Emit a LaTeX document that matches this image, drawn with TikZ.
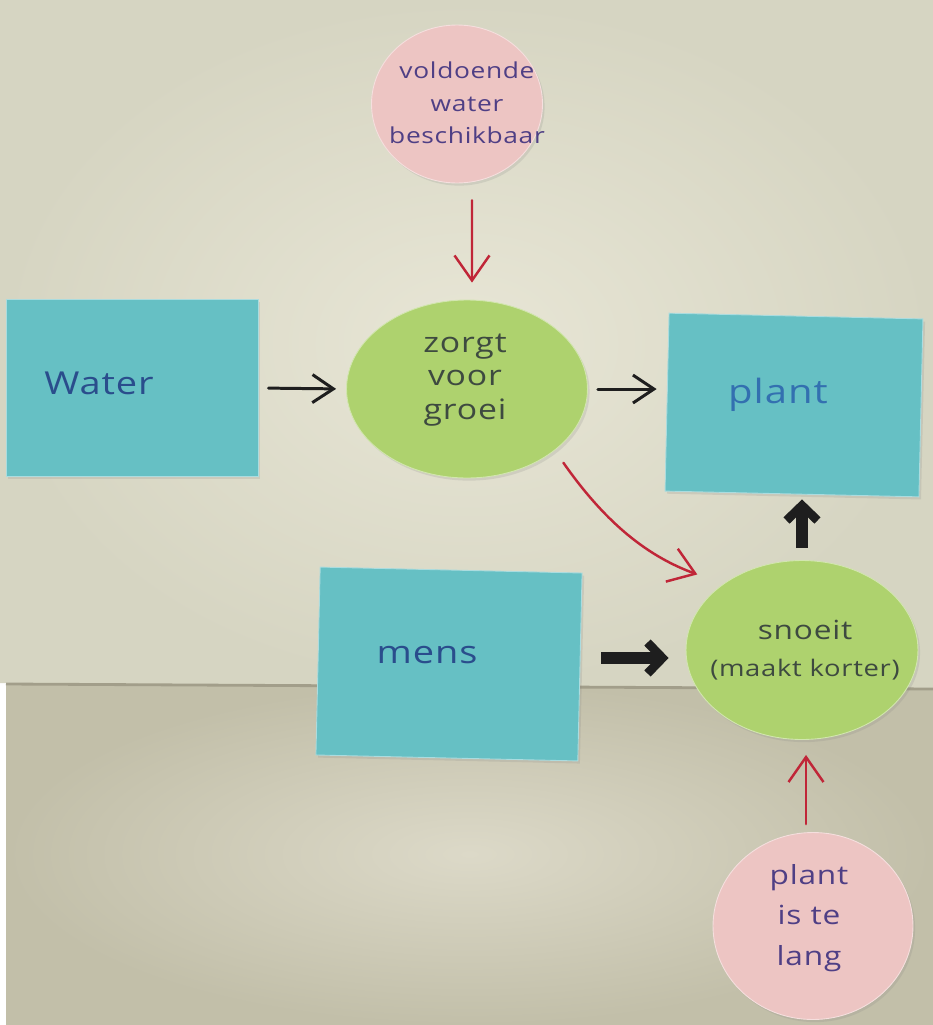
\documentclass[tikz,border=0pt]{standalone}
\usepackage{fontspec}
\newfontfamily\hand[FakeStretch=1.2,LetterSpace=3]{Open Sans}
\usetikzlibrary{arrows.meta,shapes.geometric,shadows}
\definecolor{upA}{HTML}{E8E6D6}
\definecolor{upB}{HTML}{D6D5C2}
\definecolor{lowA}{HTML}{DCD9C8}
\definecolor{lowB}{HTML}{C2BFA9}
\definecolor{seam}{HTML}{A29E8A}
\definecolor{cardblue}{HTML}{66C0C4}
\definecolor{cardgreen}{HTML}{AED26E}
\definecolor{cardpink}{HTML}{EDC5C3}
\definecolor{bluetxt}{HTML}{2A4D8C}
\definecolor{planttxt}{HTML}{3370B0}
\definecolor{greentxt}{HTML}{3E4A40}
\definecolor{pinktxt}{HTML}{4F3F85}
\definecolor{redpen}{HTML}{C02638}
\definecolor{blackpen}{HTML}{1E1E1E}
\tikzset{
  paper/.style={fill=#1, draw=#1!55!white, line width=0.5pt, inner sep=0pt,
    drop shadow={opacity=0.18, shadow xshift=1.2pt, shadow yshift=-1.5pt}},
  card/.style={paper=cardblue, rectangle},
  blob/.style={paper=cardgreen, ellipse},
  disc/.style={paper=cardpink, ellipse},
  txt/.style={font=\hand, align=center, inner sep=0pt},
  thinblack/.style={draw=blackpen, line width=1.7pt, line cap=round,
    -{Straight Barb[length=0.42cm, width=0.56cm, line width=1.7pt]},
    shorten <=0.2cm, shorten >=0.2cm},
  thickblack/.style={draw=blackpen, line width=6.5pt,
    -{Straight Barb[length=0.3cm, width=0.62cm, line width=5pt]}},
  redarrow/.style={draw=redpen, line width=1.4pt, line cap=round,
    -{Straight Barb[length=0.5cm, width=0.7cm, line width=1.4pt]}}
}
\begin{document}
\begin{tikzpicture}[x=0.02cm, y=0.02cm]
\useasboundingbox (0,0) rectangle (933,-1025);
% background sheets
\fill[white] (0,0) rectangle (933,-1025);
\shade[inner color=lowA, outer color=lowB] (6,-683) rectangle (933,-1025);
\shade[inner color=upA, outer color=upB] (0,0) -- (933,0) -- (933,-688) -- (0,-683) -- cycle;
\draw[seam, line width=1.6pt] (6,-684) -- (933,-689);

% papers
\node[disc, minimum width=3.42cm, minimum height=3.16cm,
  label={[txt, text=pinktxt, font=\hand\fontsize{12.5}{18.5}\selectfont, xshift=0.2cm, yshift=0.02cm]center:voldoende\\water\\beschikbaar}] (pink1) at (457,-104) {};
\node[card, minimum width=5.04cm, minimum height=3.54cm,
  label={[txt, text=bluetxt, font=\hand\fontsize{18}{21}\selectfont, xshift=-0.66cm, yshift=0.1cm]center:Water}] (water) at (132,-388) {};
\node[blob, minimum width=4.82cm, minimum height=3.56cm,
  label={[txt, text=greentxt, font=\hand\fontsize{16}{19}\selectfont, xshift=-0.04cm, yshift=0.18cm]center:zorgt\\voor\\groei}] (green1) at (467,-389) {};
\node[card, rotate=-1.3, minimum width=5.08cm, minimum height=3.56cm,
  label={[txt, text=planttxt, font=\hand\fontsize{19}{22}\selectfont, xshift=-0.32cm, yshift=0.2cm]center:plant}] (plant) at (794,-405) {};
\node[card, rotate=-1.3, minimum width=5.24cm, minimum height=3.76cm,
  label={[txt, text=bluetxt, font=\hand\fontsize{18}{21}\selectfont, xshift=-0.44cm, yshift=0.18cm]center:mens}] (mens) at (449,-664) {};
\node[blob, minimum width=4.64cm, minimum height=3.58cm,
  label={[txt, text=greentxt, font=\hand\fontsize{13}{21}\selectfont, xshift=0.06cm, yshift=0.0cm]center:{\fontsize{15}{21}\selectfont snoeit}\\(maakt korter)}] (green2) at (802,-650) {};
\node[disc, minimum width=4.0cm, minimum height=3.74cm,
  label={[txt, text=pinktxt, font=\hand\fontsize{15}{23}\selectfont, xshift=-0.08cm, yshift=0.16cm]center:plant\\is te\\lang}] (pink2) at (813,-926) {};

% connectors
\draw[thinblack] (water.east) -- (green1.west);
\draw[thinblack] (green1.east) -- (green1.east -| plant.west);
\draw[redarrow, shorten <=0.34cm, shorten >=0.34cm] ([xshift=0.3cm]pink1.south) -- ([xshift=0.1cm]green1.north);
\draw[redarrow, shorten <=0.3cm, shorten >=0.55cm] (green1.-35) to[out=-55, in=160] (green2.140);
\draw[thickblack, shorten <=0.24cm, shorten >=0.1cm] (green2.north) -- (green2.north |- plant.south);
\coordinate (mensout) at ([yshift=0.18cm]mens.east);
\draw[thickblack, shorten <=0.42cm, shorten >=0.34cm] (mensout) -- (mensout -| green2.west);
\coordinate (pinkup) at ([xshift=-0.14cm]pink2.north);
\draw[redarrow, shorten <=0.16cm, shorten >=0.3cm] (pinkup) -- (pinkup |- green2.south);
\end{tikzpicture}
\end{document}
